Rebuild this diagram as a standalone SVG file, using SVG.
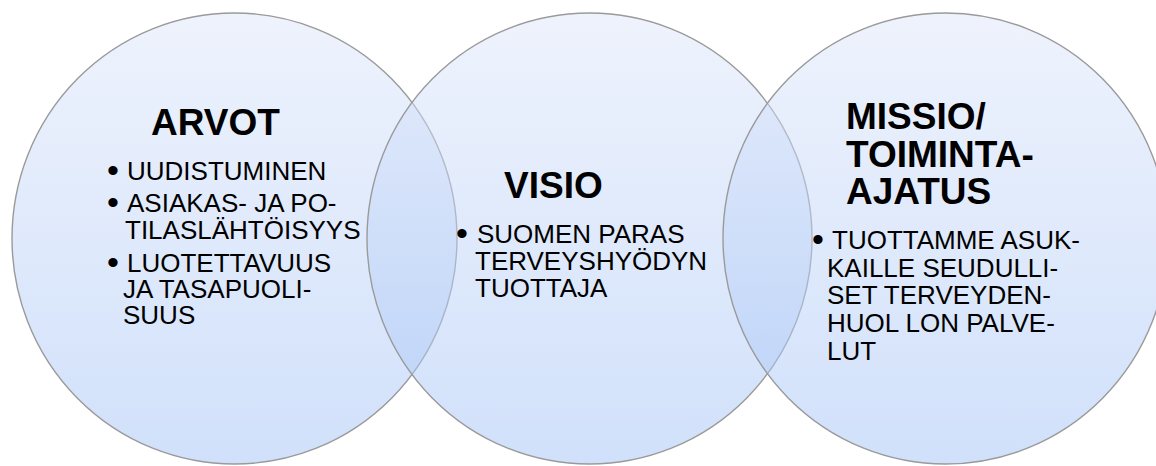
<svg xmlns="http://www.w3.org/2000/svg" width="1156" height="466" viewBox="0 0 1156 466">
<defs>
<linearGradient id="g" x1="0" y1="0" x2="0" y2="1">
<stop offset="0" stop-color="#dde6fa" stop-opacity="0.5"/>
<stop offset="1" stop-color="#a2c2f6" stop-opacity="0.5"/>
</linearGradient>
<style>
.c{fill:url(#g);stroke:#9a9a9a;stroke-width:1.4}
.h{font-family:"Liberation Sans",Arial,sans-serif;font-weight:bold;font-size:37px;fill:#000}
.t{font-family:"Liberation Sans",Arial,sans-serif;font-size:26px;fill:#000}
.b{font-size:34px}
</style>
</defs>
<rect width="1156" height="466" fill="#fff"/>
<g id="arvot">
<ellipse class="c" cx="234.5" cy="238.5" rx="222.5" ry="225.5"/>
<text class="h" x="151" y="135">ARVOT</text>
<text class="t"><tspan class="b" x="107" y="182">•</tspan><tspan x="127" y="180">UUDISTUMINEN</tspan><tspan class="b" x="107" y="214">•</tspan><tspan x="127" y="212">ASIAKAS- JA PO-</tspan><tspan x="125" y="239">TILASLÄHTÖISYYS</tspan><tspan class="b" x="107" y="274">•</tspan><tspan x="127" y="272">LUOTETTAVUUS</tspan><tspan x="123" y="298">JA TASAPUOLI-</tspan><tspan x="123" y="324">SUUS</tspan></text>
</g>
<g id="visio">
<ellipse class="c" cx="589.5" cy="238.5" rx="222.5" ry="225.5"/>
<text class="h" x="504" y="198">VISIO</text>
<text class="t"><tspan class="b" x="456" y="245">•</tspan><tspan x="477" y="243">SUOMEN PARAS</tspan><tspan x="475" y="270">TERVEYSHYÖDYN</tspan><tspan x="475" y="297">TUOTTAJA</tspan></text>
</g>
<g id="missio">
<ellipse class="c" cx="945.5" cy="238.5" rx="222.5" ry="225.5"/>
<text class="h"><tspan x="846" y="129">MISSIO/</tspan><tspan x="846" y="167">TOIMINTA-</tspan><tspan x="846" y="204">AJATUS</tspan></text>
<text class="t"><tspan class="b" x="812" y="251">•</tspan><tspan x="832" y="249">TUOTTAMME ASUK-</tspan><tspan x="827" y="277">KAILLE SEUDULLI-</tspan><tspan x="827" y="304">SET TERVEYDEN-</tspan><tspan x="827" y="332">HUOL LON PALVE-</tspan><tspan x="827" y="360">LUT</tspan></text>
</g>
<g id="connectors"/>
</svg>
